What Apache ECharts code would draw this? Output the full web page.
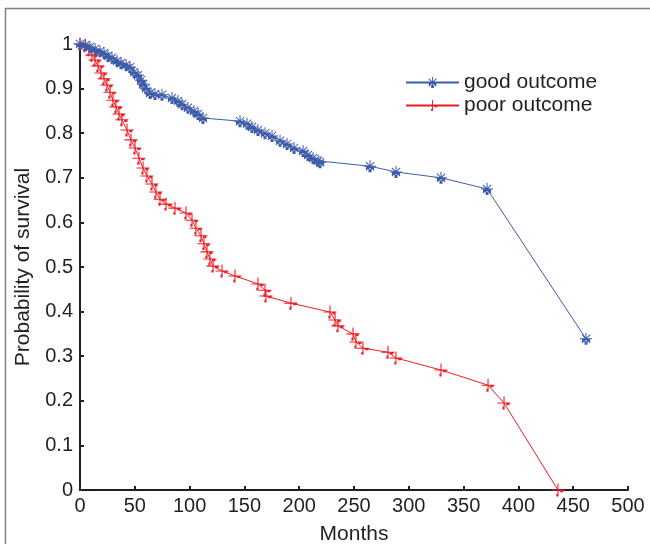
<!DOCTYPE html>
<html>
<head>
<meta charset="utf-8">
<script src="https://cdn.jsdelivr.net/npm/echarts@6/dist/echarts.min.js"></script>
<style>
html,body{margin:0;padding:0;background:#fff;}
#chart{width:650px;height:544px;}
</style>
</head>
<body>
<div id="chart"></div>
<script>
// Data (months, survival probability)
var goodMonths = [0, 5, 9, 13.7, 18.2, 21.9, 25.5, 29.2, 33.8, 37.4, 42, 45.6, 49.3, 52.9, 55.7, 57.5, 60.2, 63.9, 68.4, 74.8, 83.9, 89.4, 93.1, 98.5, 104, 107.7, 112.2, 146, 152.4, 156.9, 162.4, 168.8, 175.2, 182.5, 188.9, 195.3, 203.5, 208, 212.6, 217.2, 219, 264.6, 288.3, 329.4, 371.4, 461.7];
var goodSurv = [1.0, 0.998, 0.993, 0.989, 0.984, 0.980, 0.973, 0.969, 0.962, 0.957, 0.953, 0.948, 0.937, 0.930, 0.919, 0.910, 0.901, 0.890, 0.888, 0.886, 0.879, 0.872, 0.865, 0.857, 0.850, 0.843, 0.834, 0.827, 0.821, 0.814, 0.807, 0.800, 0.794, 0.783, 0.776, 0.767, 0.760, 0.751, 0.744, 0.738, 0.735, 0.726, 0.713, 0.700, 0.675, 0.339];
var poorMonths = [0, 4.6, 8.2, 10.9, 13.7, 16.4, 19.2, 21.9, 24.6, 27.4, 30.1, 32.8, 35.6, 38.3, 42.9, 46.5, 50.2, 53.8, 57.5, 61.1, 65.7, 69.3, 73, 78.5, 86.7, 96.7, 102.2, 105.8, 110.4, 113.1, 115.9, 118.6, 121.4, 129.6, 141.4, 162.4, 168.8, 169.7, 192.5, 228.1, 232.7, 235.4, 249.1, 251.8, 258.2, 281, 288.3, 329.4, 372.3, 386.9, 436.1];
var poorSurv = [1.0, 0.996, 0.987, 0.975, 0.964, 0.951, 0.935, 0.922, 0.908, 0.892, 0.874, 0.859, 0.843, 0.830, 0.807, 0.785, 0.767, 0.744, 0.722, 0.704, 0.686, 0.668, 0.652, 0.641, 0.632, 0.621, 0.605, 0.587, 0.570, 0.552, 0.534, 0.518, 0.502, 0.491, 0.480, 0.462, 0.448, 0.435, 0.419, 0.399, 0.381, 0.368, 0.350, 0.332, 0.318, 0.309, 0.296, 0.269, 0.235, 0.195, 0.0];
var seriesNames = ['good outcome', 'poor outcome'];
var xTicks = [0, 50, 100, 150, 200, 250, 300, 350, 400, 450, 500];
var yTicks = [0, 0.1, 0.2, 0.3, 0.4, 0.5, 0.6, 0.7, 0.8, 0.9, 1];

function pairs(xs, ys){ return xs.map(function(x,i){ return [x, ys[i]]; }); }

var BLUE = '#3d5cab';
var RED = '#ee1d25';
var INK = '#231f20';
var FONT = 'Liberation Sans, Arial, sans-serif';

// asterisk-like marker (blue), plus-like marker (red)
var starPath = 'path://M5.5,0L6.5,0L6.5,12L5.5,12Z M0,5.5L12,5.5L12,6.5L0,6.5Z M1.5,2.2L2.2,1.5L10.5,9.8L9.8,10.5Z M9.8,1.5L10.5,2.2L2.2,10.5L1.5,9.8Z M2,6.5L5,6.5L5,9L2,9Z M7,6.5L10,6.5L10,9L7,9Z M4.5,9L7.5,9L7.5,12L4.5,12Z';
var plusPath = 'path://M5.5,0L6.5,0L6.5,12L5.5,12Z M0,5.5L12,5.5L12,6.5L0,6.5Z M8,6L11,6L11,8L8,8Z M4.5,9.5L6.5,9.5L6.5,12L4.5,12Z';

var chart = echarts.init(document.getElementById('chart'), null, {renderer: 'canvas'});
chart.setOption({
  animation: false,
  backgroundColor: '#ffffff',
  graphic: [
    {type: 'line', shape: {x1: 5, y1: 8.5, x2: 650, y2: 8.5}, style: {stroke: '#808080', lineWidth: 1.5}, silent: true},
    {type: 'line', shape: {x1: 5.5, y1: 8, x2: 5.5, y2: 544}, style: {stroke: '#808080', lineWidth: 1.5}, silent: true}
  ],
  grid: {left: 80, top: 44, width: 548, height: 446, containLabel: false, outerBoundsMode: 'none'},
  legend: {
    orient: 'vertical', left: 405, top: 72, padding: 0, itemWidth: 53, itemHeight: 14, itemGap: 2,
    textStyle: {fontFamily: FONT, fontSize: 21, lineHeight: 21, color: INK},
    data: seriesNames
  },
  xAxis: {
    type: 'value', min: 0, max: 500, interval: 50,
    name: 'Months', nameLocation: 'middle', nameGap: 34,
    nameTextStyle: {fontFamily: FONT, fontSize: 21, color: INK},
    axisLine: {lineStyle: {color: INK, width: 2}},
    axisTick: {inside: true, length: 4, lineStyle: {color: INK, width: 2}},
    axisLabel: {fontFamily: FONT, fontSize: 20, color: INK, margin: 6,
      formatter: function(v){ return xTicks.indexOf(v) >= 0 ? String(v) : ''; }},
    splitLine: {show: false}
  },
  yAxis: {
    type: 'value', min: 0, max: 1, interval: 0.1,
    name: 'Probability of survival', nameLocation: 'middle', nameGap: 46,
    nameTextStyle: {fontFamily: FONT, fontSize: 21, color: INK},
    axisLine: {show: true, lineStyle: {color: INK, width: 2}},
    axisTick: {show: true, inside: true, length: 4, lineStyle: {color: INK, width: 2}},
    axisLabel: {fontFamily: FONT, fontSize: 20, color: INK, margin: 7,
      formatter: function(v){ var r = Math.round(v*10)/10; return yTicks.indexOf(r) >= 0 ? String(r) : ''; }},
    splitLine: {show: false}
  },
  series: [
    {
      name: seriesNames[0], type: 'line', data: pairs(goodMonths, goodSurv),
      symbol: starPath, symbolSize: 12, showAllSymbol: true,
      lineStyle: {color: BLUE, width: 1},
      itemStyle: {color: BLUE, borderWidth: 0},
      z: 3
    },
    {
      name: seriesNames[1], type: 'line', data: pairs(poorMonths, poorSurv),
      symbol: plusPath, symbolSize: 13, showAllSymbol: true,
      lineStyle: {color: RED, width: 1},
      itemStyle: {color: RED, borderWidth: 0},
      z: 2
    }
  ]
});
</script>
</body>
</html>
